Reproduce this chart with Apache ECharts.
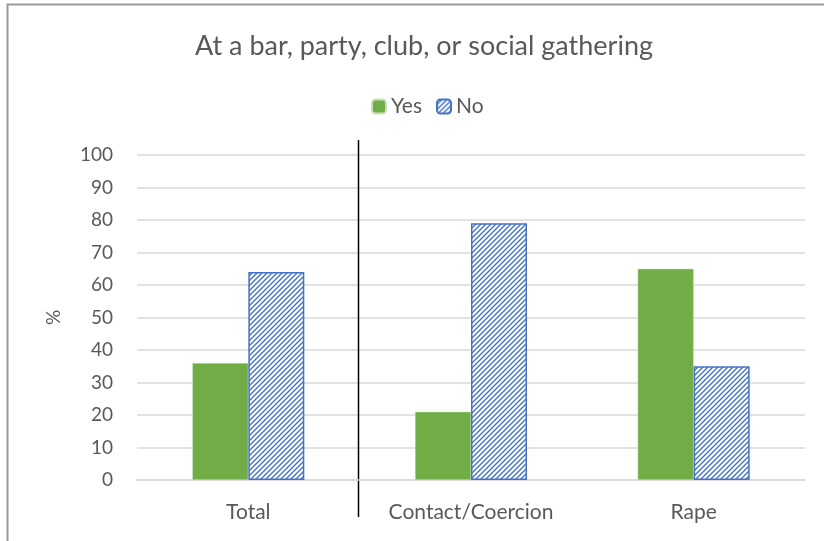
<!DOCTYPE html>
<html><head><meta charset="utf-8">
<script src="https://cdn.jsdelivr.net/npm/echarts@6/dist/echarts.min.js"></script>
<style>html,body{margin:0;padding:0;background:#fff}#c{width:824px;height:541px}</style>
</head><body><div id="c"></div>
<script>
const categories = ['Total', 'Contact/Coercion', 'Rape'];
const yesValues = [36, 21, 65];
const noValues = [64, 79, 35];
const yTicks = [0, 10, 20, 30, 40, 50, 60, 70, 80, 90, 100];

const FONT = 'Lato';
const BLUE = '#4472C4';
function hatch() {
  const c = document.createElement('canvas');
  c.width = 5; c.height = 5;
  const g = c.getContext('2d');
  g.fillStyle = '#fff'; g.fillRect(0, 0, 5, 5);
  g.strokeStyle = BLUE; g.lineWidth = 1.4;
  g.beginPath();
  g.moveTo(-1, 6); g.lineTo(6, -1);
  g.moveTo(-1, 1); g.lineTo(1, -1);
  g.moveTo(4, 6); g.lineTo(6, 4);
  g.stroke();
  return c;
}
const pat = { image: hatch(), repeat: 'repeat' };

const chart = echarts.init(document.getElementById('c'));
chart.setOption({
  animation: false,
  textStyle: { fontFamily: FONT },
  title: {
    text: 'At a bar, party, club, or social gathering',
    left: 190, top: 28,
    textStyle: { fontFamily: FONT, fontSize: 27, fontWeight: 'normal', color: '#595959' }
  },
  legend: {
    top: 91, left: 366, itemWidth: 14, itemHeight: 14, itemGap: 14,
    textStyle: { fontFamily: FONT, fontSize: 21, color: '#595959' },
    data: ['Yes', 'No']
  },
  grid: { left: 137, right: 19, top: 155, bottom: 61 },
  xAxis: {
    type: 'category', data: categories,
    axisLine: { lineStyle: { color: '#d9d9d9', width: 1.5 } },
    axisTick: { show: false },
    axisLabel: { fontFamily: FONT, fontSize: 21, color: '#595959', margin: 22 }
  },
  yAxis: {
    type: 'value', min: yTicks[0], max: yTicks[yTicks.length - 1], interval: 10,
    name: '%', nameLocation: 'middle', nameGap: 74, nameRotate: 90,
    nameTextStyle: { fontFamily: FONT, fontSize: 19, color: '#595959' },
    axisLine: { show: false }, axisTick: { show: false },
    splitLine: { lineStyle: { color: '#d9d9d9', width: 1.5 } },
    axisLabel: { fontFamily: FONT, fontSize: 19, color: '#595959', margin: 24 }
  },
  series: [
    { name: 'Yes', type: 'bar', data: yesValues, barWidth: 56, barGap: '0%',
      itemStyle: { color: '#70AD47', borderColor: '#c9e0bb', borderWidth: 0.5 } },
    { name: 'No', type: 'bar', data: noValues, barWidth: 56, barGap: '0%',
      itemStyle: { color: pat, borderColor: BLUE, borderWidth: 1.5 } }
  ]
});

const x0 = chart.convertToPixel({ xAxisIndex: 0 }, 0);
const x1 = chart.convertToPixel({ xAxisIndex: 0 }, 1);
const sepX = Math.round((x0 + x1) / 2) - 1.5;
chart.setOption({
  graphic: [
    { type: 'line', shape: { x1: sepX, y1: 140, x2: sepX, y2: 517 },
      style: { stroke: '#000', lineWidth: 1.5 } },
    { type: 'polyline', shape: { points: [[7.5, 541], [7.5, 4.5], [824, 4.5]] },
      style: { stroke: '#9a9a9a', lineWidth: 2, fill: null } }
  ]
});
</script></body></html>
